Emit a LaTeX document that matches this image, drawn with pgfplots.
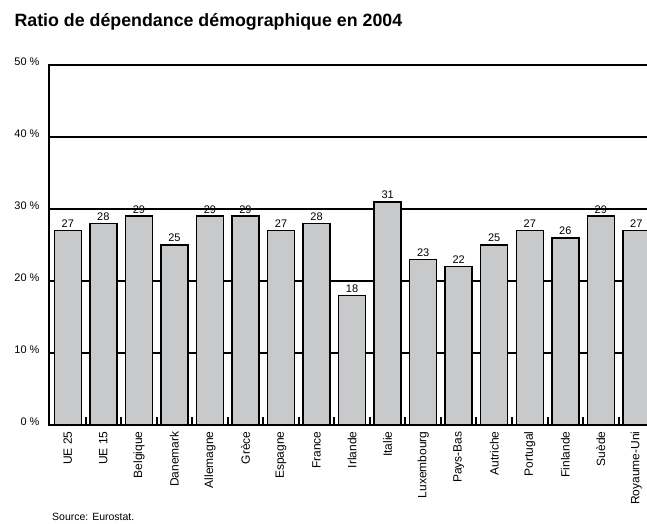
\documentclass[border=0pt]{standalone}
\usepackage{fontspec}
\setmainfont{Liberation Sans}
\usepackage{pgfplots}
\pgfplotsset{compat=1.18}
\definecolor{barfill}{RGB}{200,201,203}
\begin{document}
\begin{tikzpicture}
\begin{axis}[
  at={(49pt,98pt)}, anchor=south west,
  scale only axis, width=600pt, height=360pt,
  xmin=-0.53, xmax=16.356, ymin=0, ymax=50,
  xtick pos=bottom, ytick pos=left,
  axis line style={line width=1.6pt},
  ytick={0,10,...,50},
  yticklabel={\pgfmathprintnumber{\tick}~\%},
  yticklabel style={font=\fontsize{11}{12}\selectfont, xshift=-6pt, yshift=3pt},
  /pgf/number format/assume math mode=true,
  ymajorgrids, major grid style={black, line width=1.6pt},
  xtick={0,...,16},
  xticklabels={UE 25,UE 15,Belgique,Danemark,Allemagne,Grèce,Espagne,France,Irlande,Italie,Luxembourg,Pays-Bas,Autriche,Portugal,Finlande,Suède,Royaume-Uni},
  xticklabel style={rotate=90, anchor=east, font=\fontsize{12}{13}\selectfont, xshift=-3pt},
  major tick length=0pt,
]
\addplot[ybar, bar width=0.76, draw=black, line width=1.5pt, fill=barfill,
  nodes near coords,
  nodes near coords style={font=\fontsize{11}{12}\selectfont, yshift=-1pt, black}] coordinates {
(0,27) (1,28) (2,29) (3,25) (4,29) (5,29) (6,27) (7,28) (8,18) (9,31) (10,23) (11,22) (12,25) (13,27) (14,26) (15,29) (16,27)};
\addplot[ycomb, black, line width=2pt, no marks] coordinates {
(0.5,1.1) (1.5,1.1) (2.5,1.1) (3.5,1.1) (4.5,1.1) (5.5,1.1) (6.5,1.1) (7.5,1.1) (8.5,1.1) (9.5,1.1) (10.5,1.1) (11.5,1.1) (12.5,1.1) (13.5,1.1) (14.5,1.1) (15.5,1.1)};
\end{axis}
\node[anchor=base west, font=\bfseries\fontsize{17.8}{20}\selectfont] at (11pt,496pt) {Ratio de dépendance démographique en 2004};
\node[anchor=base west, font=\fontsize{10.5}{12}\selectfont, inner sep=0pt] at (52pt,3pt) {Source: Eurostat.};
\pgfresetboundingbox
\path (0pt,0pt) rectangle (647pt,523pt);
\end{tikzpicture}
\end{document}
